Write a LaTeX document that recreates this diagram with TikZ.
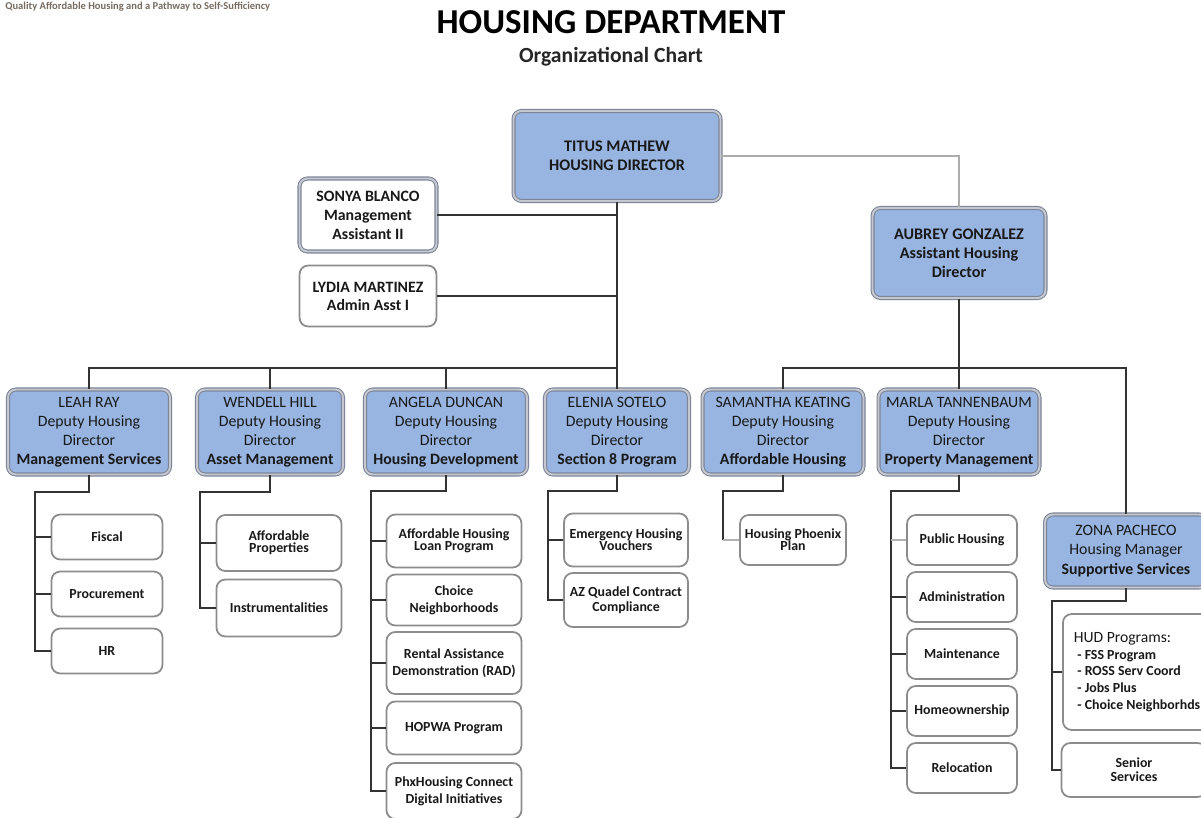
\documentclass[tikz,border=0pt]{standalone}
\usepackage{fontspec}
\setmainfont{Carlito}
\definecolor{deputyblue}{RGB}{152,181,225}
\definecolor{boxedge}{RGB}{125,133,150}
\definecolor{unitedge}{RGB}{140,140,142}
\definecolor{taggray}{RGB}{118,108,98}

\begin{document}
\begin{tikzpicture}[x=0.02cm, y=-0.02cm]
    \tikzset{
      headbox/.style={draw=boxedge, double=white!55!boxedge, double distance=1.1pt, line width=0.6pt,
        rounded corners=4.5pt, fill=deputyblue, align=center, inner sep=0pt, text=black!90},
      staffbox/.style={headbox, fill=white, font=\fontsize{9}{10.8}\selectfont\bfseries},
      depbox/.style={headbox, minimum height=1.7cm, font=\fontsize{9}{10.9}\selectfont},
      unitbox/.style={draw=unitedge, line width=1pt, rounded corners=5pt, fill=white, align=center,
        inner sep=0pt, text=black!90, font=\fontsize{7.9}{9.5}\selectfont\bfseries},
      tight/.style={font=\fontsize{7.9}{7}\selectfont\bfseries},
      link/.style={draw=black!80, line width=0.9pt}
    }
    \useasboundingbox (0,0) rectangle (1201,818);

    % heading
    \node[anchor=west, inner xsep=0pt, text=taggray, font=\fontsize{6}{7}\selectfont\bfseries] (tagline) at (5,7)
      {Quality Affordable Housing and a Pathway to Self-Sufficiency};
    \node[font=\fontsize{19.9}{22}\selectfont\bfseries] (title) at (611,22) {HOUSING DEPARTMENT};
    \node[text=black!85, font=\fontsize{12.3}{14}\selectfont\bfseries] (subtitle) at (611,57) {Organizational Chart};

    % director and staff
    \node[headbox, minimum width=4.14cm, minimum height=1.8cm, font=\fontsize{9.2}{10.8}\selectfont\bfseries]
      (director) at (617,156) {TITUS MATHEW\\HOUSING DIRECTOR};
    \node[headbox, minimum width=3.46cm, minimum height=1.8cm, font=\fontsize{9.2}{10.8}\selectfont\bfseries]
      (aubrey) at (959,253) {AUBREY GONZALEZ\\Assistant Housing\\Director};
    \node[staffbox, minimum width=2.74cm, minimum height=1.46cm] (sonya) at (368,215)
      {SONYA BLANCO\\Management\\Assistant II};
    \node[unitbox, minimum width=2.74cm, minimum height=1.22cm, font=\fontsize{9}{10.3}\selectfont\bfseries]
      (lydia) at (368,296) {LYDIA MARTINEZ\\Admin Asst I};

    % deputy directors
    \node[depbox, minimum width=3.24cm] (leah) at (89,432)
      {LEAH RAY\\Deputy Housing\\Director\\\textbf{Management Services}};
    \node[depbox, minimum width=2.92cm] (wendell) at (270,432)
      {WENDELL HILL\\Deputy Housing\\Director\\\textbf{Asset Management}};
    \node[depbox, minimum width=3.24cm] (angela) at (446,432)
      {ANGELA DUNCAN\\Deputy Housing\\Director\\\textbf{Housing Development}};
    \node[depbox, minimum width=2.88cm] (elenia) at (617,432)
      {ELENIA SOTELO\\Deputy Housing\\Director\\\textbf{Section 8 Program}};
    \node[depbox, minimum width=3.22cm] (samantha) at (783,432)
      {SAMANTHA KEATING\\Deputy Housing\\Director\\\textbf{Affordable Housing}};
    \node[depbox, minimum width=3.22cm] (marla) at (959,432)
      {MARLA TANNENBAUM\\Deputy Housing\\Director\\\textbf{Property Management}};
    \node[depbox, minimum width=3.24cm, minimum height=1.46cm] (zona) at (1126,551)
      {ZONA PACHECO\\Housing Manager\\\textbf{Supportive Services}};

    % units
    \node[unitbox, minimum width=2.22cm, minimum height=0.9cm] (fiscal) at (107,537) {Fiscal};
    \node[unitbox, minimum width=2.22cm, minimum height=0.9cm] (procure) at (107,594) {Procurement};
    \node[unitbox, minimum width=2.22cm, minimum height=0.9cm] (hr) at (107,651) {HR};

    \node[unitbox, tight, minimum width=2.5cm, minimum height=1.12cm] (affprop) at (279,543) {Affordable\\Properties};
    \node[unitbox, minimum width=2.5cm, minimum height=1.14cm] (instr) at (279,608) {Instrumentalities};

    \node[unitbox, tight, minimum width=2.7cm, minimum height=1.06cm] (loan) at (454,541) {Affordable Housing\\Loan Program};
    \node[unitbox, minimum width=2.7cm, minimum height=1.02cm] (choice) at (454,600) {Choice\\Neighborhoods};
    \node[unitbox, minimum width=2.7cm, minimum height=1.24cm] (rad) at (454,663) {Rental Assistance\\Demonstration (RAD)};
    \node[unitbox, minimum width=2.7cm, minimum height=1.06cm] (hopwa) at (454,728) {HOPWA Program};
    \node[unitbox, minimum width=2.7cm, minimum height=1.12cm] (phx) at (454,791) {PhxHousing Connect\\Digital Initiatives};

    \node[unitbox, tight, minimum width=2.48cm, minimum height=1.06cm] (vouchers) at (626,540) {Emergency Housing\\Vouchers};
    \node[unitbox, font=\fontsize{7.9}{8.5}\selectfont\bfseries, minimum width=2.48cm, minimum height=1.08cm]
      (quadel) at (626,600) {AZ Quadel Contract\\Compliance};

    \node[unitbox, tight, minimum width=2.12cm, minimum height=1.0cm] (phoenix) at (793,540) {Housing Phoenix\\Plan};

    \node[unitbox, minimum width=2.2cm, minimum height=1.0cm] (pubhousing) at (962,540) {Public Housing};
    \node[unitbox, minimum width=2.2cm, minimum height=1.0cm] (admin) at (962,597) {Administration};
    \node[unitbox, minimum width=2.2cm, minimum height=1.0cm] (maint) at (962,654) {Maintenance};
    \node[unitbox, minimum width=2.2cm, minimum height=1.0cm] (homeown) at (962,711) {Homeownership};
    \node[unitbox, minimum width=2.2cm, minimum height=1.0cm] (reloc) at (962,768) {Relocation};

    \node[unitbox, anchor=west, align=left, inner xsep=0.22cm, minimum width=2.9cm, minimum height=2.32cm]
      (hud) at (1062,672)
      {{\fontsize{8.9}{10}\selectfont\mdseries HUD Programs:}\\
       \hspace*{2pt}- FSS Program\\\hspace*{2pt}- ROSS Serv Coord\\\hspace*{2pt}- Jobs Plus\\\hspace*{2pt}- Choice Neighborhds};
    \node[unitbox, font=\fontsize{7.9}{8}\selectfont\bfseries, minimum width=2.9cm, minimum height=1.08cm]
      (senior) at (1134,770) {Senior\\Services};

    % top links
    \draw[link, draw=gray!65, line width=0.7pt] (director.east) -| (aubrey.north);
    \draw[link] (director.south) -- (elenia.north);
    \draw[link] (sonya.east) -- (sonya.east -| director.south);
    \draw[link] (lydia.east) -- (lydia.east -| director.south);

    % deputy buses
    \coordinate (leftbus) at (617,368);
    \coordinate (rightbus) at (959,368);
    \draw[link] (leah.north) |- (leftbus);
    \foreach \d in {wendell,angela}
      \draw[link] (\d.north) -- (\d.north |- leftbus);
    \draw[link] (aubrey.south) -- (marla.north);
    \draw[link] (samantha.north) |- (rightbus) -| (zona.north);

    % unit trunks
    \coordinate (leahtrunk) at (35,492);
    \draw[link] (leah.south) |- (leahtrunk) |- (hr.west);
    \foreach \u in {fiscal,procure}
      \draw[link] (\u.west) -- (\u.west -| leahtrunk);

    \coordinate (wendelltrunk) at (200,492);
    \draw[link] (wendell.south) |- (wendelltrunk) |- (instr.west);
    \draw[link] (affprop.west) -- (affprop.west -| wendelltrunk);

    \coordinate (angelatrunk) at (371,491);
    \draw[link] (angela.south) |- (angelatrunk) |- (phx.west);
    \foreach \u in {loan,choice,rad,hopwa}
      \draw[link] (\u.west) -- (\u.west -| angelatrunk);

    \coordinate (eleniatrunk) at (548,491);
    \draw[link] (elenia.south) |- (eleniatrunk) |- (quadel.west);
    \draw[link] (vouchers.west) -- (vouchers.west -| eleniatrunk);

    \coordinate (samanthatrunk) at (723,491);
    \draw[link] (samantha.south) |- (samanthatrunk) -- (samanthatrunk |- phoenix.west);
    \draw[link, draw=gray!60] (phoenix.west) -- (phoenix.west -| samanthatrunk);

    \coordinate (marlatrunk) at (891,491);
    \draw[link] (marla.south) |- (marlatrunk) |- (reloc.west);
    \draw[link, draw=gray!60] (pubhousing.west) -- (pubhousing.west -| marlatrunk);
    \foreach \u in {admin,maint,homeown}
      \draw[link] (\u.west) -- (\u.west -| marlatrunk);

    \coordinate (zonatrunk) at (1052,601);
    \draw[link] (zona.south) |- (zonatrunk) |- (senior.west);
    \draw[link] (hud.west) -- (hud.west -| zonatrunk);
\end{tikzpicture}
\end{document}
